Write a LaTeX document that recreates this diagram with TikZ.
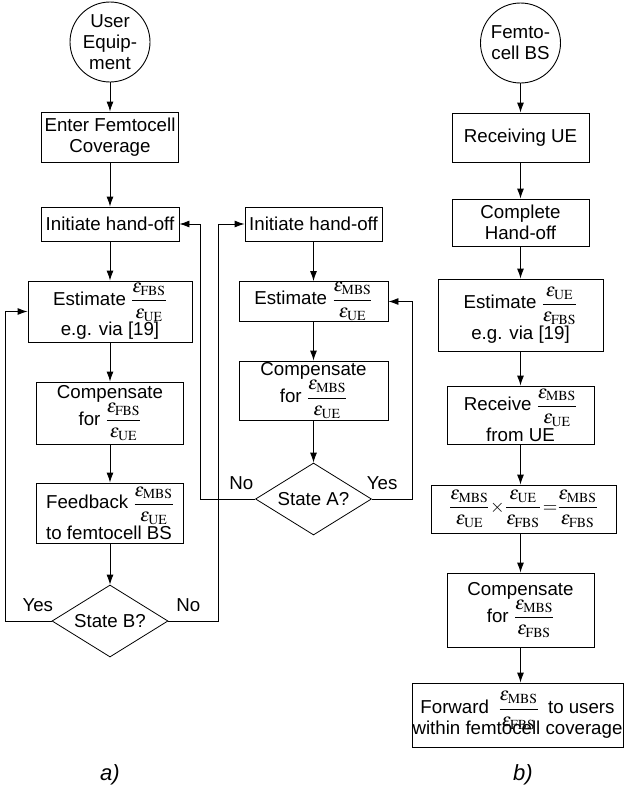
\documentclass[tikz,border=0pt]{standalone}
\usepackage{amsmath}
\usepackage{mathptmx}
\usepackage{fontspec}
\setmainfont{Liberation Sans}
\usetikzlibrary{shapes.geometric,arrows.meta}

\newcommand{\fr}[2]{\dfrac{\varepsilon_{\mathrm{#1}}}{\varepsilon_{\mathrm{#2}}}}

\begin{document}
\begin{tikzpicture}[x=1pt,y=-1pt,
  every node/.style={font=\fontsize{18.7}{21}\selectfont},
  box/.style={draw,line width=.9pt,align=center,inner sep=1pt},
  circ/.style={draw,line width=.9pt,circle,minimum size=80pt,inner sep=0pt},
  decision/.style={draw,line width=.8pt,diamond,aspect=1.6,minimum width=116pt,minimum height=72pt,inner sep=0pt},
  arr/.style={line width=.9pt,-{Latex[length=10pt,width=7pt]}},
  lbl/.style={above=7pt,inner sep=2pt},
  caption/.style={font=\fontsize{22}{24}\selectfont\itshape}]
\useasboundingbox (0,0) rectangle (626,795);

% a) user equipment
\node[circ,label={[align=center]center:User\\Equip-\\ment}] (ue) at (110,42) {};
\node[box,minimum width=137pt,minimum height=50pt] (enter) at (110,137) {Enter Femtocell\\Coverage};
\node[box,minimum width=138pt,minimum height=34pt] (ini1) at (110,224) {Initiate hand-off};
\node[box,minimum width=164pt,minimum height=61pt] (est1) at (110,311.5) {Estimate $\fr{FBS}{UE}$\\e.g. via [19]};
\node[box,minimum width=147pt,minimum height=62pt] (comp1) at (110,413) {Compensate\\for $\fr{FBS}{UE}$};
\node[box,align=left,minimum width=147pt,minimum height=60pt] (feed1) at (110,513) {Feedback $\fr{MBS}{UE}$\\to femtocell BS};
\node[decision] (stB) at (110,621) {State B?};

\node[box,minimum width=137pt,minimum height=34pt] (ini2) at (313.5,224) {Initiate hand-off};
\node[box,minimum width=149pt,minimum height=37pt] (est2) at (313.5,301.5) {Estimate $\fr{MBS}{UE}$};
\node[box,minimum width=149pt,minimum height=59pt] (comp2) at (313.5,390.5) {Compensate\\for $\fr{MBS}{UE}$};
\node[decision] (stA) at (313.5,499) {State A?};

\draw[arr] (ue) -- (enter);
\draw[arr] (enter) -- (ini1);
\draw[arr] (ini1) -- (est1);
\draw[arr] (est1) -- (comp1);
\draw[arr] (comp1) -- (feed1);
\draw[arr] (feed1) -- (stB);
\draw[arr] (ini2) -- (est2);
\draw[arr] (est2) -- (comp2);
\draw[arr] (comp2) -- (stA);

\draw[arr] (stB.west) -- node[lbl,pos=.3] {Yes} ++(-46,0) |- (est1.west);
\draw[arr] (stB.east) -- node[lbl,pos=.4] {No} ++(50,0) |- (ini2.west);
\draw[arr] (stA.west) -- node[lbl,pos=.25] {No} ++(-55,0) |- (ini1.east);
\draw[arr] (stA.east) -- node[lbl,pos=.25] {Yes} ++(41,0) |- (est2.east);

% b) femtocell base station
\node[circ,label={[align=center]center:Femto-\\cell BS}] (fbs) at (520.5,43) {};
\node[box,minimum width=137pt,minimum height=49pt] (recv) at (520.5,137.5) {Receiving UE};
\node[box,minimum width=137pt,minimum height=47pt] (compl) at (520.5,222.5) {Complete\\Hand-off};
\node[box,minimum width=165pt,minimum height=72pt] (est3) at (520.5,315) {Estimate $\fr{UE}{FBS}$\\e.g. via [19]};
\node[box,minimum width=147pt,minimum height=58pt] (rec2) at (520.5,415) {Receive $\fr{MBS}{UE}$\\from UE};
\node[box,minimum width=185pt,minimum height=48pt] (prod) at (523.5,509) {$\fr{MBS}{UE}\!\times\!\fr{UE}{FBS}\,{=}\fr{MBS}{FBS}$};
\node[box,minimum width=147pt,minimum height=74pt] (comp3) at (520.5,610) {Compensate\\for $\fr{MBS}{FBS}$};
\node[box,inner sep=.5pt,minimum width=211pt,minimum height=64pt] (fwd) at (517.5,715) {Forward\enspace$\smash[b]{\fr{MBS}{FBS}}$\enspace to users\\within femtocell coverage};

\draw[arr] (fbs) -- (recv);
\draw[arr] (recv) -- (compl);
\draw[arr] (compl) -- (est3);
\draw[arr] (est3) -- (rec2);
\draw[arr] (rec2.south) -- (rec2.south |- prod.north);
\draw[arr] (rec2.south |- prod.south) -- (rec2.south |- comp3.north);
\draw[arr] (comp3) -- (comp3 |- fwd.north);

\node[caption] (capa) at (110,775) {a)};
\node[caption] (capb) at (523,775) {b)};
\end{tikzpicture}
\end{document}
